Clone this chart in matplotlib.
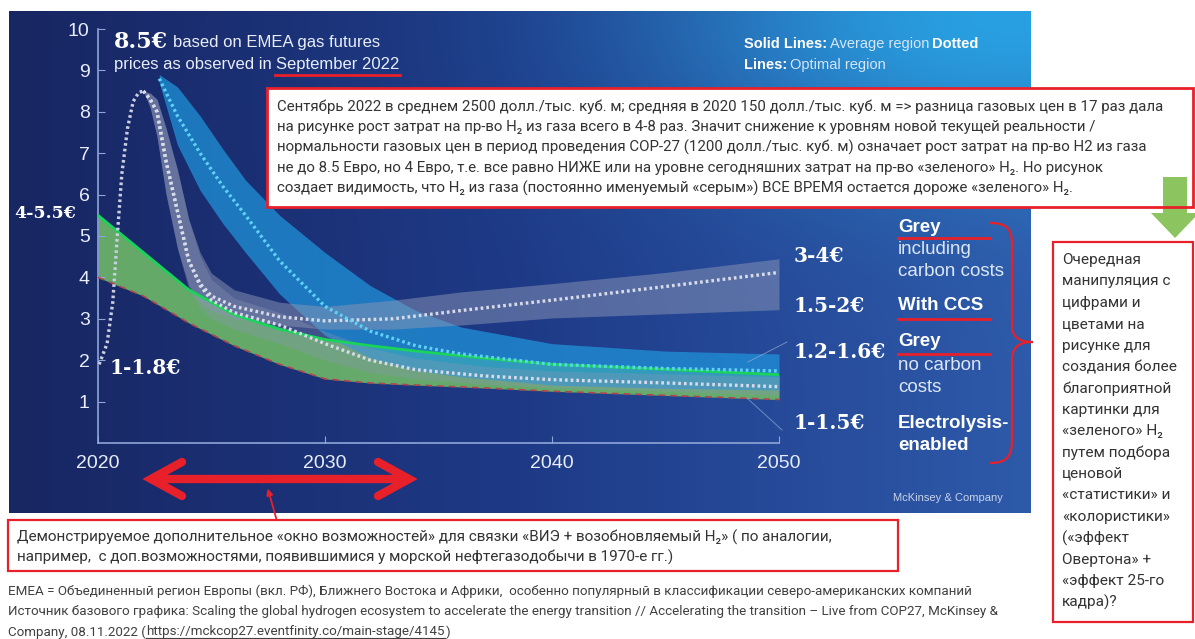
import numpy as np
import matplotlib.pyplot as plt
from matplotlib.path import Path
from matplotlib.patches import PathPatch, Rectangle, Polygon

# ---- data (EUR per kg H2) ----
green_years = [2020, 2022, 2024, 2026, 2028, 2030, 2032, 2034, 2037, 2040, 2045, 2050]
green_hi = [5.5, 4.6, 3.7, 3.1, 2.75, 2.5, 2.35, 2.22, 2.05, 1.9, 1.78, 1.65]
green_lo = [4.0, 3.55, 2.9, 2.35, 1.9, 1.55, 1.45, 1.4, 1.33, 1.25, 1.15, 1.05]

ccs_years = [2022.7, 2023.5, 2024.5, 2025.5, 2026.5, 2028, 2030, 2032, 2034, 2036, 2040, 2045, 2050]
ccs_hi = [8.9, 8.6, 7.9, 7.1, 6.35, 5.5, 4.6, 3.8, 3.2, 2.8, 2.4, 2.22, 2.15]
ccs_lo = [8.7, 7.2, 6.1, 5.3, 4.6, 3.6, 2.6, 2.05, 1.75, 1.6, 1.4, 1.32, 1.28]
ccs_opt = [8.8, 7.9, 7.0, 6.2, 5.5, 4.4, 3.3, 2.7, 2.35, 2.15, 1.9, 1.8, 1.74]

carb_years = [2022.0, 2022.3, 2022.6, 2023.0, 2023.5, 2024.0, 2024.5, 2025, 2026, 2028, 2030, 2033, 2036, 2040, 2045, 2050]
carb_hi = [8.5, 8.45, 8.3, 7.6, 6.6, 5.4, 4.6, 4.1, 3.7, 3.4, 3.3, 3.45, 3.65, 3.85, 4.12, 4.45]
carb_lo = [8.5, 8.1, 7.4, 6.0, 4.7, 3.8, 3.4, 3.2, 3.0, 2.85, 2.75, 2.75, 2.85, 3.02, 3.12, 3.22]
carb_opt = [8.5, 8.3, 8.0, 6.8, 5.6, 4.4, 3.85, 3.55, 3.3, 3.05, 2.95, 3.0, 3.2, 3.45, 3.78, 4.12]

grey_years = [2022.0, 2022.3, 2022.6, 2023.0, 2023.5, 2024.0, 2024.5, 2025, 2026, 2028, 2030, 2032, 2034, 2037, 2040, 2045, 2050]
grey_hi = [8.5, 8.45, 8.3, 7.6, 6.6, 5.4, 4.5, 3.95, 3.5, 3.15, 2.7, 2.3, 2.05, 1.85, 1.74, 1.67, 1.6]
grey_lo = [8.5, 8.1, 7.4, 6.0, 4.7, 3.7, 3.25, 3.0, 2.75, 2.4, 2.0, 1.7, 1.55, 1.42, 1.33, 1.25, 1.15]
grey_opt = [8.5, 8.3, 8.0, 6.8, 5.6, 4.4, 3.8, 3.45, 3.15, 2.85, 2.4, 2.0, 1.77, 1.62, 1.53, 1.45, 1.36]

spike_years = [2020.05, 2020.4, 2020.65, 2020.85, 2021.05, 2021.3, 2021.55, 2021.8, 2022.0]
spike_vals = [1.9, 2.4, 3.4, 5.0, 6.5, 7.6, 8.25, 8.47, 8.5]

x_ticks = [2020, 2030, 2040, 2050]
y_ticks = [1, 2, 3, 4, 5, 6, 7, 8, 9, 10]

value_labels = ["3-4€", "1.5-2€", "1.2-1.6€", "1-1.5€"]
top_note = [
    "Сентябрь 2022 в среднем 2500 долл./тыс. куб. м; средняя в 2020 150 долл./тыс. куб. м => разница газовых цен в 17 раз дала",
    "на рисунке рост затрат на пр-во H₂ из газа всего в 4-8 раз. Значит снижение к уровням новой текущей реальности /",
    "нормальности газовых цен в период проведения COP-27 (1200 долл./тыс. куб. м) означает рост затрат на пр-во H2 из газа",
    "не до 8.5 Евро, но 4 Евро, т.е. все равно НИЖЕ или на уровне сегодняшних затрат на пр-во «зеленого» H₂. Но рисунок",
    "создает видимость, что H₂ из газа (постоянно именуемый «серым») ВСЕ ВРЕМЯ остается дороже «зеленого» H₂.",
]
side_note = ["Очередная", "манипуляция с", "цифрами и", "цветами на", "рисунке для",
             "создания более", "благоприятной", "картинки для", "«зеленого» H₂",
             "путем подбора", "ценовой", "«статистики» и", "«колористики»",
             "(«эффект", "Овертона» +", "«эффект 25-го", "кадра)?"]
bottom_note = [
    "Демонстрируемое дополнительное «окно возможностей» для связки «ВИЭ + возобновляемый H₂» ( по аналогии,",
    "например,  с доп.возможностями, появившимися у морской нефтегазодобычи в 1970-е гг.)",
]
foot1 = "EMEA = Объединенный регион Европы (вкл. РФ), Ближнего Востока и Африки,  особенно популярный в классификации северо-американских компаний"
foot2 = "Источник базового графика: Scaling the global hydrogen ecosystem to accelerate the energy transition // Accelerating the transition – Live from COP27, McKinsey &"
foot3a = "Company, 08.11.2022 ("
foot3b = "https://mckcop27.eventfinity.co/main-stage/4145"

RED = '#e8202a'
RU = ['Roboto', 'DejaVu Sans']
EN = ['Liberation Sans', 'DejaVu Sans']
SERIF = 'DejaVu Serif'

fig = plt.figure(figsize=(11.95, 6.39), dpi=100)
fig.patch.set_facecolor('white')

bg = fig.add_axes([0, 0, 1, 1], label='bg')
bg.axis('off')
bg.set_zorder(0)

# blue panel behind the chart
xs = np.linspace(9, 1031, 400)
ys = np.linspace(11, 513, 200)
X, Y = np.meshgrid(xs, ys)
t = ((X - 9) / 1022)[..., None]
c_left = np.array([24, 38, 98])
c_mid = np.array([30, 58, 135])
c_right = np.array([46, 90, 170])
base = np.where(t < 0.5, c_left + (c_mid - c_left) * (t / 0.5),
                c_mid + (c_right - c_mid) * ((t - 0.5) / 0.5))
glow = np.array([40, 160, 225])
w = np.exp(-((X - 1010) / 330) ** 2 - ((Y - 15) / 150) ** 2)[..., None]
img = (base * (1 - w) + glow * w) / 255
bg.imshow(img, extent=(9, 1031, 513, 11), aspect='auto', interpolation='bilinear')
bg.set_xlim(0, 1195)
bg.set_ylim(639, 0)

# chart axes
ax = fig.add_axes([98 / 1195, (639 - 443) / 639, 681 / 1195, 414 / 639], label='chart')
ax.set_zorder(1)
ax.patch.set_alpha(0)
ax.set_xlim(2020, 2050)
ax.set_ylim(0, 10)

ax.fill_between(green_years, green_lo, green_hi, color='#70bb68', alpha=0.88, lw=0, zorder=1)
ax.fill_between(ccs_years, ccs_lo, ccs_hi, color='#1f95dc', alpha=0.72, lw=0, zorder=2)
ax.fill_between(grey_years, grey_lo, grey_hi, color='#8c96b6', alpha=0.32, lw=0, zorder=3)
ax.fill_between(carb_years, carb_lo, carb_hi, color='#8c96b6', alpha=0.5, lw=0, zorder=3)

ax.plot(green_years, green_lo, color='#b0454f', lw=1.2, ls=(0, (4, 3)), zorder=4)
ax.plot(green_years, green_hi, color='#19d35a', lw=2, zorder=5)
dots = dict(lw=2.4, ls=(0, (0.8, 0.9)), dash_capstyle='butt', zorder=6)
ax.plot(spike_years, spike_vals, color='#c9cfe0', **dots)
ax.plot(carb_years, carb_opt, color='#d8dce8', **dots)
ax.plot(grey_years, grey_opt, color='#d8dce8', **dots)
ax.plot(ccs_years, ccs_opt, color='#5fd3f5', **dots)

for s in ['top', 'right']:
    ax.spines[s].set_visible(False)
for s in ['left', 'bottom']:
    ax.spines[s].set_color('#8ea6d8')
    ax.spines[s].set_linewidth(1.2)
ax.set_xticks(x_ticks)
ax.set_yticks(y_ticks)
ax.tick_params(axis='both', direction='in', colors='#8ea6d8', labelcolor='#e8edf7',
               labelsize=14, length=5)
ax.tick_params(axis='x', pad=9)
ax.tick_params(axis='y', pad=6)
for lab in ax.get_xticklabels() + ax.get_yticklabels():
    lab.set_family(EN)

# overlay for texts and annotations (pixel coordinates)
fg = fig.add_axes([0, 0, 1, 1], label='fg')
fg.set_zorder(2)
fg.patch.set_alpha(0)
fg.set_xlim(0, 1195)
fg.set_ylim(639, 0)
fg.axis('off')

rend = fig.canvas.get_renderer()


def width_of(t):
    return t.get_window_extent(renderer=rend).width


def fit_size(s, target, **kw):
    t = fg.text(0, 0, s, fontsize=10, **kw)
    wd = width_of(t)
    t.remove()
    return 10 * target / wd


def put_row(x, y, parts, gap=4):
    spans = []
    for s, kw in parts:
        tt = fg.text(x, y, s, va='center', ha='left', **kw)
        wd = width_of(tt)
        spans.append((x, x + wd))
        x += wd + gap
    return spans


# top-left annotation of the original chart
put_row(114, 42, [("8.5€", dict(family=SERIF, fontweight='bold', fontsize=16, color='white')),
                  ("based on EMEA gas futures", dict(family=EN, fontsize=12, color='#e8edf7'))], gap=5)
sp = put_row(114, 64, [("prices as observed in", dict(family=EN, fontsize=12, color='#e8edf7')),
                       ("September 2022", dict(family=EN, fontsize=12, color='#e8edf7'))], gap=4)
fg.plot([sp[1][0] - 1, sp[1][1] + 1], [75, 75], color=RED, lw=2)

# legend note
bold = dict(family=EN, fontsize=10.5, fontweight='bold', color='white')
norm = dict(family=EN, fontsize=10.5, color='#d5e6f7')
put_row(744, 44, [("Solid Lines:", bold), ("Average region", norm), ("Dotted", bold)], gap=3)
put_row(744, 65, [("Lines:", bold), ("Optimal region", norm)], gap=3)

# value labels
fg.text(14, 213, "4-5.5€", family=SERIF, fontweight='bold', fontsize=12.5, color='white', va='center')
fg.text(110, 368, "1-1.8€", family=SERIF, fontweight='bold', fontsize=14.5, color='white', va='center')
for lab, yy in zip(value_labels, [256, 306, 352, 423]):
    fg.text(794, yy, lab, family=SERIF, fontweight='bold', fontsize=14.5, color='white', va='center')

cat_rows = [("Grey", 227, True), ("including", 249, False), ("carbon costs", 271, False),
            ("With CCS", 306, True), ("Grey", 342, True), ("no carbon", 365, False),
            ("costs", 387, False), ("Electrolysis-", 423, True), ("enabled", 445, True)]
for s, yy, b in cat_rows:
    fg.text(898, yy, s, family=EN, fontsize=13.5, fontweight='bold' if b else 'normal',
            color='white' if b else '#dde6f3', va='center')
for yy in [238, 319, 354]:
    fg.plot([898, 990], [yy, yy], color=RED, lw=2)

# leader lines
fg.plot([748, 787], [362, 342], color='#8fa8d8', lw=0.7, alpha=0.7)
fg.plot([747, 782], [398, 430], color='#8fa8d8', lw=0.7, alpha=0.7)

fg.text(893, 498, "McKinsey & Company", family=EN, fontsize=8, color='#c8d4ea', va='center')

# curly brace
verts = [(990, 223), (1008, 223), (1012, 230), (1012, 245),
         (1012, 325),
         (1012, 338), (1020, 342), (1033, 342),
         (1020, 342), (1012, 346), (1012, 360),
         (1012, 440),
         (1012, 455), (1008, 463), (990, 463)]
codes = [Path.MOVETO, Path.CURVE4, Path.CURVE4, Path.CURVE4,
         Path.LINETO,
         Path.CURVE4, Path.CURVE4, Path.CURVE4,
         Path.CURVE4, Path.CURVE4, Path.CURVE4,
         Path.LINETO,
         Path.CURVE4, Path.CURVE4, Path.CURVE4]
fg.add_patch(PathPatch(Path(verts, codes), facecolor='none', edgecolor=RED, lw=1.6))

# red double arrow
fg.plot([156, 404], [479, 479], color=RED, lw=6, solid_capstyle='butt')
fg.plot([182, 151, 182], [462, 479, 496], color=RED, lw=6, solid_capstyle='round', solid_joinstyle='miter')
fg.plot([378, 409, 378], [462, 479, 496], color=RED, lw=6, solid_capstyle='round', solid_joinstyle='miter')
fg.annotate("", xy=(267, 486), xytext=(277, 521),
            arrowprops=dict(arrowstyle='-|>', color=RED, lw=1.3, mutation_scale=9))

# top note box
fg.add_patch(Rectangle((267, 88), 926, 119, facecolor='white', edgecolor='none'))
fg.add_patch(Polygon([(1163, 177), (1187, 177), (1187, 213), (1199, 213), (1175, 238),
                      (1151, 213), (1163, 213)], closed=True, facecolor='#8cc560', edgecolor='none'))
fg.add_patch(Rectangle((267, 88), 926, 119, facecolor='none', edgecolor=RED, lw=2))
fs = fit_size(top_note[0], 883, family=RU)
for i, line in enumerate(top_note):
    fg.text(277, 106.5 + 20.4 * i, line, family=RU, fontsize=fs, color='#333333', va='center')

# side note box
fg.add_patch(Rectangle((1053, 242), 140, 380, facecolor='white', edgecolor=RED, lw=1.6))
fs = fit_size("создания более", 115, family=RU)
for i, line in enumerate(side_note):
    fg.text(1062, 260 + 21.4 * i, line, family=RU, fontsize=fs, color='#333333', va='center')

# bottom note box
fg.add_patch(Rectangle((8, 520), 890, 51, facecolor='white', edgecolor=RED, lw=1.6))
fs = fit_size(bottom_note[0], 818, family=RU)
for i, line in enumerate(bottom_note):
    fg.text(17, 537 + 20.5 * i, line, family=RU, fontsize=fs, color='#333333', va='center')

# footnotes
fs = fit_size(foot2, 990, family=RU)
fg.text(8, 591, foot1, family=RU, fontsize=fs, color='#404040', va='center')
fg.text(8, 612, foot2, family=RU, fontsize=fs, color='#404040', va='center')
sp = put_row(8, 632, [(foot3a, dict(family=RU, fontsize=fs, color='#404040')),
                      (foot3b, dict(family=RU, fontsize=fs, color='#404040')),
                      (")", dict(family=RU, fontsize=fs, color='#404040'))], gap=0.5)
fg.plot([sp[1][0], sp[1][1]], [638, 638], color='#404040', lw=0.8)

fig.savefig('out.png', dpi=100)
